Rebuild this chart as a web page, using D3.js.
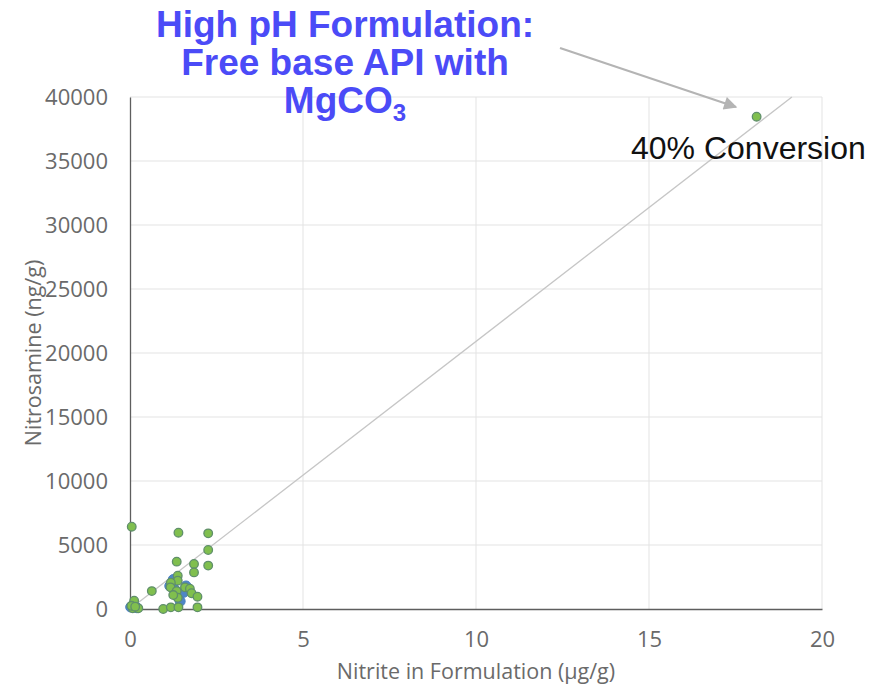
<!DOCTYPE html>
<html><head><meta charset="utf-8">
<script src="https://cdn.jsdelivr.net/npm/d3@7/dist/d3.min.js"></script>
<style>body{margin:0;background:#fff}svg{display:block}</style>
</head><body>
<script>
// ---- data ----
const nitriteX = [0.05,1.40,2.26,2.26,2.26,1.35,1.85,1.85,1.38,1.38,1.18,1.17,1.35,1.59,1.73,1.78,1.95,1.38,1.25,0.63,0.12,0.08,0.24,0.96,1.18,1.40,1.95,0.04,0.15,18.11];
const nitrosamineY = [6430,5960,5910,4610,3390,3700,3520,2860,2600,2210,2050,1690,1400,1690,1590,1230,960,880,1090,1400,650,50,50,0,130,130,130,250,180,38460];
const blueX = [0.02,0.10,0.20,1.15,1.30,1.40,1.55,1.62,1.25,1.45];
const blueY = [150,300,100,1800,1500,900,1300,1800,2300,600];
const xTicks = [0,5,10,15,20];
const yTicks = [0,5000,10000,15000,20000,25000,30000,35000,40000];
const trendX = [0,19.13];
const trendY = [0,40000];
const titleLines = ["High pH Formulation:","Free base API with"];
const xTitle = "Nitrite in Formulation (µg/g)";
const yTitle = "Nitrosamine (ng/g)";
const annot = "40% Conversion";

// ---- chart ----
const W=876,H=687;
const svg=d3.select("body").append("svg").attr("width",W).attr("height",H);
const x=d3.scaleLinear().domain([0,20]).range([130,822]);
const y=d3.scaleLinear().domain([0,40000]).range([609,97]);
const tickFont="'Open Sans', sans-serif";

// gridlines
svg.append("g").selectAll("line.h").data(yTicks.slice(1)).join("line")
  .attr("x1",x(0)).attr("x2",x(20)).attr("y1",d=>y(d)).attr("y2",d=>y(d))
  .attr("stroke","#e3e3e3").attr("stroke-width",1);
svg.append("g").selectAll("line.v").data(xTicks.slice(1)).join("line")
  .attr("y1",y(0)).attr("y2",y(40000)).attr("x1",d=>x(d)).attr("x2",d=>x(d))
  .attr("stroke","#e3e3e3").attr("stroke-width",1);

// axes
const yAxis=svg.append("g").attr("transform",`translate(${x(0)},0)`)
  .call(d3.axisLeft(y).tickValues(yTicks).tickSize(0).tickPadding(22).tickFormat(d3.format("d")));
const xAxis=svg.append("g").attr("transform",`translate(0,${y(0)})`)
  .call(d3.axisBottom(x).tickValues(xTicks).tickSize(0).tickPadding(22).tickFormat(d3.format("d")));
[yAxis,xAxis].forEach(g=>{
  g.select(".domain").attr("stroke","#5e5e5e").attr("stroke-width",1.3);
  g.selectAll("text").attr("font-family",tickFont).attr("font-size",22).attr("fill","#6a6a6a");
});

// trend line
svg.append("line").attr("x1",x(trendX[0])).attr("y1",y(trendY[0])).attr("x2",x(trendX[1])).attr("y2",y(trendY[1]))
  .attr("stroke","#c6c6c6").attr("stroke-width",1.3);

// points
svg.append("g").selectAll("circle").data(blueX.map((v,i)=>[v,blueY[i]])).join("circle")
  .attr("cx",d=>x(d[0])).attr("cy",d=>y(d[1])).attr("r",5)
  .attr("fill","#4f86c6").attr("stroke","#4a7fc0").attr("stroke-width",1);
svg.append("g").selectAll("circle").data(nitriteX.map((v,i)=>[v,nitrosamineY[i]])).join("circle")
  .attr("cx",d=>x(d[0])).attr("cy",d=>y(d[1])).attr("r",4.3)
  .attr("fill","#80bf4e").attr("stroke","#5f8f6a").attr("stroke-width",1.3);

// axis titles
svg.append("text").attr("x",(x(0)+x(20))/2).attr("y",679).attr("text-anchor","middle")
  .attr("font-family",tickFont).attr("font-size",21.5).attr("fill","#6a6a6a").text(xTitle);
svg.append("text").attr("transform",`translate(41,353) rotate(-90)`).attr("text-anchor","middle")
  .attr("font-family",tickFont).attr("font-size",21.5).attr("fill","#6a6a6a").text(yTitle);

// title
const tf="'Liberation Sans', Arial, sans-serif";
const tg=svg.append("g").attr("font-family",tf).attr("font-weight","bold").attr("font-size",37).attr("fill","#4b4bf7").attr("text-anchor","middle");
titleLines.forEach((t,i)=>tg.append("text").attr("x",345).attr("y",37+38*i).text(t));
const t3=tg.append("text").attr("x",345).attr("y",113);
t3.append("tspan").text("MgCO");
t3.append("tspan").attr("font-size",24).attr("dy",8).text("3");

// arrow
const defs=svg.append("defs");
defs.append("marker").attr("id","ah").attr("viewBox","0 0 10 10").attr("refX",9).attr("refY",5)
  .attr("markerWidth",7).attr("markerHeight",6).attr("orient","auto").attr("markerUnits","strokeWidth")
  .append("path").attr("d","M0,0L10,5L0,10z").attr("fill","#b4b4b4");
svg.append("line").attr("x1",560).attr("y1",48).attr("x2",736).attr("y2",107)
  .attr("stroke","#b4b4b4").attr("stroke-width",2.2).attr("marker-end","url(#ah)");

// annotation
svg.append("text").attr("x",631).attr("y",159).attr("font-family",tf).attr("font-size",32).attr("fill","#111").text(annot);
</script>
</body></html>
